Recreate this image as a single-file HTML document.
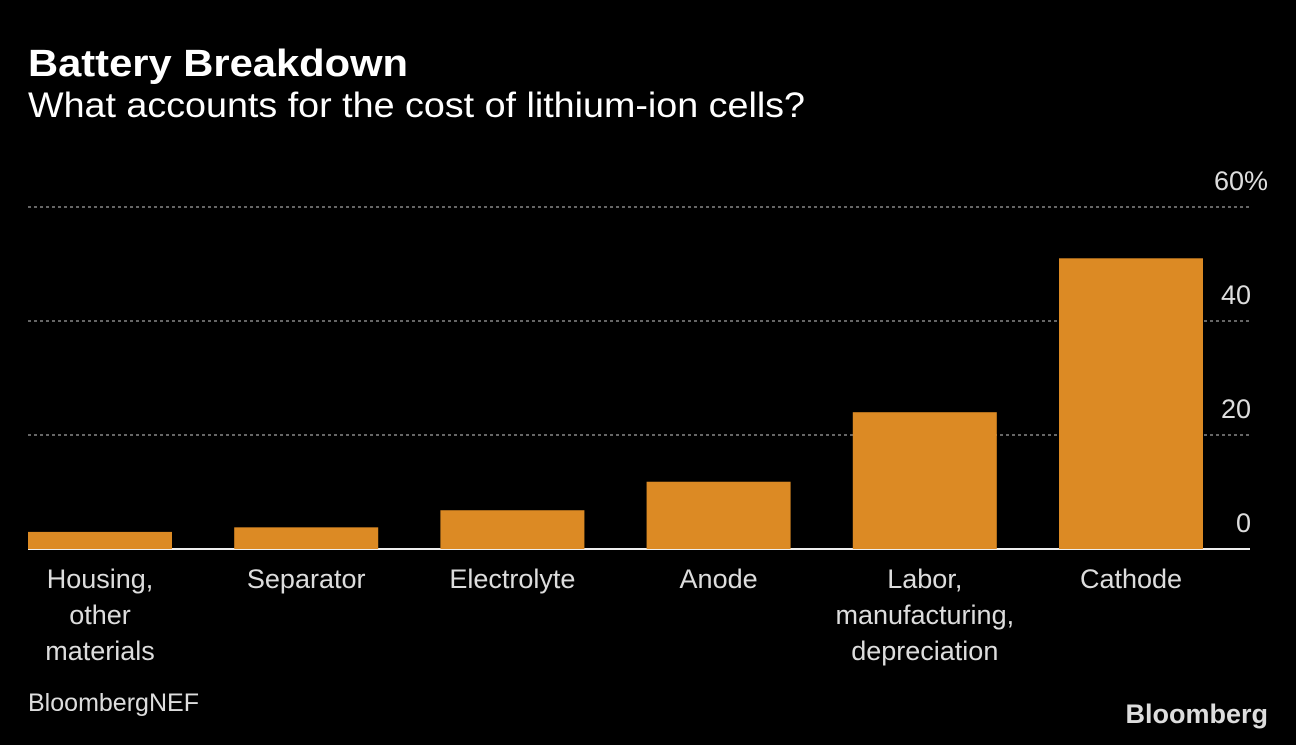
<!DOCTYPE html>
<html><head><meta charset="utf-8"><style>
body{margin:0;background:#000;width:1296px;height:740px;overflow:hidden;font-family:"Liberation Sans",sans-serif;color:#fff}
</style></head><body>
<svg width="1296" height="740" xmlns="http://www.w3.org/2000/svg">
<text x="28" y="76" font-size="38" font-weight="bold" fill="#fff" textLength="380" lengthAdjust="spacingAndGlyphs">Battery Breakdown</text>
<text x="28" y="117" font-size="35" fill="#fff" textLength="777" lengthAdjust="spacingAndGlyphs">What accounts for the cost of lithium-ion cells?</text>
<g id="grid"></g><g id="bars"></g><g id="labels"></g>
<text x="28" y="711" font-size="25" fill="#ddd" textLength="171" lengthAdjust="spacingAndGlyphs">BloombergNEF</text>
<text x="1268" y="723" font-size="27" font-weight="bold" fill="#ddd" text-anchor="end">Bloomberg</text>
</svg>
<script>
const categories=[["Housing,","other","materials"],["Separator"],["Electrolyte"],["Anode"],["Labor,","manufacturing,","depreciation"],["Cathode"]];
const values=[3,3.8,6.8,11.8,24,51];
const ticks=[0,20,40,60];
const tickLabels=["0","20","40","60%"];
const NS="http://www.w3.org/2000/svg";
const y0=549,pxPer=5.7;
const y=v=>y0-v*pxPer;
const x=i=>28+i*206.2;
const g=document.getElementById('grid'),b=document.getElementById('bars'),l=document.getElementById('labels');
function mk(t,a,p){const e=document.createElementNS(NS,t);for(const k in a)e.setAttribute(k,a[k]);p.appendChild(e);return e;}
ticks.forEach((t,i)=>{
  if(t!==0){const ln=mk('line',{x1:28,x2:1250,y1:y(t),y2:y(t),stroke:'#888','stroke-width':1.5,'stroke-dasharray':'3,3'},g);
  
  }
  const tx=mk('text',{x:t===60?1268:1251,y:y(t)-17,'font-size':27,fill:'#ddd','text-anchor':'end'},g);
  tx.textContent=tickLabels[i];
  
  
});
values.forEach((v,i)=>{
  const r=mk('rect',{x:x(i),y:y(v),width:144,height:y0-y(v),fill:'#dc8a24'},b);
  
  
  categories[i].forEach((s,j)=>{
    const t=mk('text',{x:x(i)+72,y:588+j*36,'font-size':27,fill:'#ddd','text-anchor':'middle'},l);
    t.textContent=s;
    
    
  });
});
const ax=mk('line',{x1:28,x2:1250,y1:y0,y2:y0,stroke:'#eee','stroke-width':2},g);


</script>
</body></html>
